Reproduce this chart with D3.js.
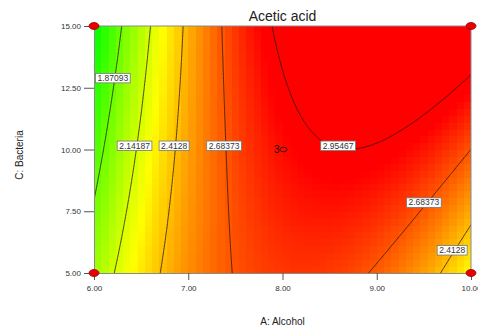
<!DOCTYPE html>
<html>
<head>
<meta charset="utf-8">
<script src="https://cdn.jsdelivr.net/npm/d3@7"></script>
<style>
  body { margin: 0; background: #fff; }
  svg { font-family: "Liberation Sans", Arial, sans-serif; }
</style>
</head>
<body>
<svg id="chart" width="478" height="330"></svg>
<script>
// factor ranges and ticks
const alcoholRange = [6, 10];
const bacteriaRange = [5, 15];
const alcoholTicks = [6, 7, 8, 9, 10];
const bacteriaTicks = [5, 7.5, 10, 12.5, 15];

// quadratic model in coded units: Intercept, A, C, AC, A^2, C^2
const modelTerms = ["Intercept", "A", "C", "AC", "A^2", "C^2"];
const modelCoefs = [2.876, 0.449, 0.119, 0.327, -0.642, 0.005];

const contourLevels = [1.87093, 2.14187, 2.4128, 2.68373, 2.95467];

// where the contour labels sit (A, C) and which level they show
const labelAlcohol = [6.2, 6.43, 6.85, 7.38, 8.59, 9.5, 9.8];
const labelBacteria = [12.9, 10.16, 10.16, 10.16, 10.16, 7.86, 5.93];
const labelLevel = [0, 1, 2, 3, 4, 3, 2];

// design points
const designAlcohol = [6, 10, 6, 10];
const designBacteria = [5, 5, 15, 15];
const centerPoint = [8, 10];
const centerReps = 3;

const margin = {top: 26, right: 7, bottom: 57, left: 94};
const W = 478, H = 330;

const svg = d3.select("#chart");

const x = d3.scaleLinear().domain(alcoholRange).range([margin.left, W - margin.right]);
const y = d3.scaleLinear().domain(bacteriaRange).range([H - margin.bottom, margin.top]);

function model(A, C) {
  const a = (A - 8) / 2, c = (C - 10) / 5;
  const b = modelCoefs;
  return b[0] + b[1]*a + b[2]*c + b[3]*a*c + b[4]*a*a + b[5]*c*c;
}

const color = d3.scaleLinear()
  .domain([1.6, 2.25, 2.9])
  .range(["#00ff00", "#ffff00", "#ff0000"])
  .clamp(true);

svg.append("clipPath").attr("id", "plotClip")
  .append("rect")
    .attr("x", x(6)).attr("y", y(15))
    .attr("width", x(10) - x(6)).attr("height", y(5) - y(15));

const plot = svg.append("g").attr("clip-path", "url(#plotClip)");

// colour cells
const nx = 52, ny = 36;
const cells = [];
for (let j = 0; j < ny; j++) {
  for (let i = 0; i < nx; i++) {
    const a0 = 6 + i * 4 / nx, a1 = 6 + (i + 1) * 4 / nx;
    const c0 = 5 + j * 10 / ny, c1 = 5 + (j + 1) * 10 / ny;
    cells.push({a0, a1, c0, c1, v: model((a0 + a1) / 2, (c0 + c1) / 2)});
  }
}
plot.selectAll("rect.cell")
  .data(cells)
  .enter().append("rect")
    .attr("class", "cell")
    .attr("x", d => x(d.a0))
    .attr("y", d => y(d.c1))
    .attr("width", d => x(d.a1) - x(d.a0) + 0.6)
    .attr("height", d => y(d.c0) - y(d.c1) + 0.6)
    .attr("fill", d => color(d.v))
    .attr("shape-rendering", "crispEdges");

// contour lines on a grid a bit larger than the plot, then clipped
const gn = 181, gm = 181;
const A0 = 5.9, A1 = 10.1, C0 = 4.9, C1 = 15.1;
const dA = (A1 - A0) / (gn - 1), dC = (C1 - C0) / (gm - 1);
const values = new Array(gn * gm);
for (let j = 0; j < gm; j++)
  for (let i = 0; i < gn; i++)
    values[j * gn + i] = model(A0 + i * dA, C0 + j * dC);

const contours = d3.contours().size([gn, gm]).thresholds(contourLevels)(values);
const proj = d3.geoTransform({
  point: function(px, py) {
    this.stream.point(x(A0 + (px - 0.5) * dA), y(C0 + (py - 0.5) * dC));
  }
});
plot.selectAll("path.iso")
  .data(contours)
  .enter().append("path")
    .attr("class", "iso")
    .attr("d", d3.geoPath(proj))
    .attr("fill", "none")
    .attr("stroke", "#2a1a10")
    .attr("stroke-width", 0.8);

// frame top / right
svg.append("path")
  .attr("d", `M${x(6)},${y(15)}H${x(10)}V${y(5)}`)
  .attr("fill", "none").attr("stroke", "#8a8a8a").attr("stroke-width", 1);

// axes
const yAxis = svg.append("g")
  .attr("transform", `translate(${x(6)},0)`)
  .call(d3.axisLeft(y).tickValues(bacteriaTicks).tickFormat(d3.format(".2f")).tickSize(10).tickPadding(3));
const xAxis = svg.append("g")
  .attr("transform", `translate(0,${y(5)})`)
  .call(d3.axisBottom(x).tickValues(alcoholTicks).tickFormat(d3.format(".2f")).tickSize(7).tickPadding(5));
[xAxis, yAxis].forEach(g => {
  g.select(".domain").attr("stroke", "#8a8a8a");
  g.selectAll(".tick line").attr("stroke", "#555");
  g.selectAll(".tick text").attr("fill", "#333").style("font-size", "8px");
});

// contour labels
const labels = svg.append("g");
labelLevel.forEach((lv, k) => {
  const cx = x(labelAlcohol[k]), cy = y(labelBacteria[k]);
  const g = labels.append("g");
  const box = g.append("rect");
  const t = g.append("text")
    .attr("x", cx).attr("y", cy + 3)
    .attr("text-anchor", "middle")
    .attr("fill", "#333")
    .style("font-size", "8.5px")
    .text(String(contourLevels[lv]));
  const w = t.node().getComputedTextLength();
  box.attr("x", cx - w / 2 - 2).attr("y", cy - 4.5)
    .attr("width", w + 4).attr("height", 9.5)
    .attr("fill", "#fff").attr("stroke", "#777").attr("stroke-width", 0.8);
});

// center point with replicate count
svg.append("text")
  .attr("x", x(centerPoint[0]) - 3).attr("y", y(centerPoint[1]) + 3.5)
  .attr("text-anchor", "end")
  .attr("fill", "#111")
  .style("font-size", "10px")
  .text(centerReps);
svg.append("ellipse")
  .attr("cx", x(centerPoint[0]) + 1).attr("cy", y(centerPoint[1]))
  .attr("rx", 3.5).attr("ry", 2.3)
  .attr("fill", "none").attr("stroke", "#111").attr("stroke-width", 0.8);

// design points
svg.selectAll("ellipse.dp")
  .data(designAlcohol.map((a, i) => [a, designBacteria[i]]))
  .enter().append("ellipse")
    .attr("class", "dp")
    .attr("cx", d => x(d[0])).attr("cy", d => y(d[1]))
    .attr("rx", 5).attr("ry", 3.5)
    .attr("fill", "#e80000").attr("stroke", "#a00000").attr("stroke-width", 0.8);

// titles
svg.append("text")
  .attr("x", x(8)).attr("y", 21)
  .attr("text-anchor", "middle")
  .attr("fill", "#222")
  .style("font-size", "14px")
  .text("Acetic acid");
svg.append("text")
  .attr("x", x(8)).attr("y", 325)
  .attr("text-anchor", "middle")
  .attr("fill", "#222")
  .style("font-size", "10px")
  .text("A: Alcohol");
svg.append("text")
  .attr("transform", `translate(23,155) rotate(-90)`)
  .attr("text-anchor", "middle")
  .attr("fill", "#222")
  .style("font-size", "10px")
  .text("C: Bacteria");
</script>
</body>
</html>
